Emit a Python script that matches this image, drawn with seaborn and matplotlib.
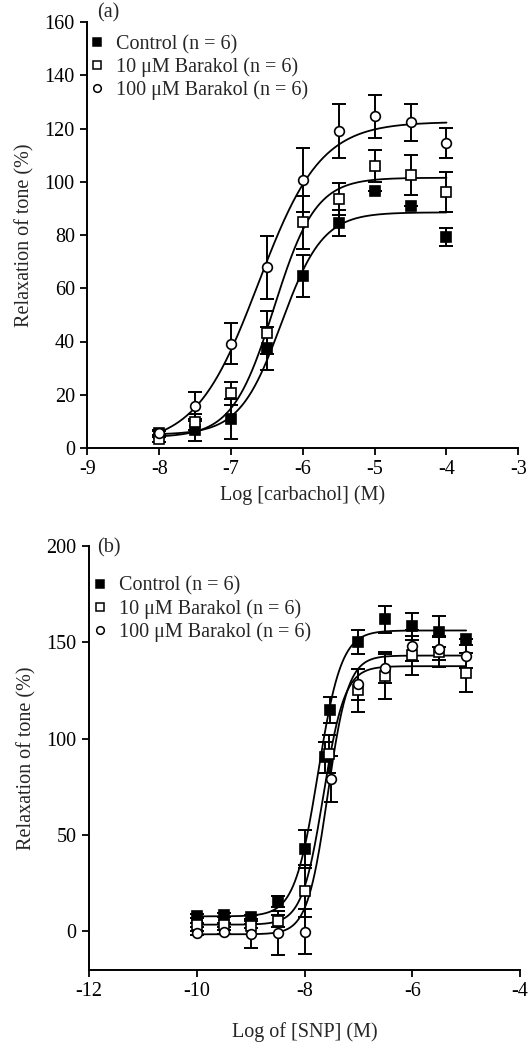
import numpy as np
import pandas as pd
import seaborn as sns
import matplotlib.pyplot as plt
from matplotlib.lines import Line2D

sns.set_style("ticks")
plt.rcParams['font.family'] = ['Liberation Serif', 'DejaVu Serif']
plt.rcParams['font.size'] = 14.5

# ---- panel (a): carbachol ----
x_a = [-8, -7.5, -7, -6.5, -6, -5.5, -5, -4.5, -4]
ctrl_a = [5.8, 6.8, 10.9, 37.4, 64.6, 84.5, 96.7, 90.8, 79.4]
ctrl_a_sem = [1.0, 4.0, 7.6, 8.0, 8.0, 5.0, 0.0, 0.0, 3.4]
b10_a = [3.3, 9.9, 20.6, 43.3, 84.8, 93.6, 105.9, 102.4, 96.3]
b10_a_sem = [1.0, 3.0, 4.3, 8.0, 10.0, 6.0, 6.0, 7.5, 7.5]
b100_a = [5.5, 15.6, 39.2, 67.8, 100.5, 119.1, 124.6, 122.3, 114.6]
b100_a_sem = [1.0, 5.6, 7.8, 12.0, 12.0, 10.0, 8.0, 7.0, 5.7]
# fitted curve parameters: bottom, top, logEC50, hill
fit_a_bottom = [5.0, 4.0, 1.0]
fit_a_top = [88.5, 101.5, 122.5]
fit_a_ec50 = [-6.3, -6.4, -6.62]
fit_a_hill = [1.5, 1.5, 1.0]

# ---- panel (b): SNP ----
x_b_ctrl = [-10, -9.5, -9, -8.5, -8, -7.62, -7.52, -7, -6.5, -6, -5.5, -5]
ctrl_b = [7.8, 8.5, 7.3, 15.6, 42.8, 90.3, 114.6, 150.0, 161.8, 158.2, 155.3, 151.8]
ctrl_b_sem = [1.0, 1.0, 1.0, 3.0, 10.0, 8.0, 6.7, 6.0, 7.0, 7.0, 8.0, 0.0]
x_b10 = [-10, -9.5, -9, -8.5, -8, -7.55, -7, -6.5, -6, -5.5, -5]
b10_b = [3.5, 3.4, 2.6, 5.5, 21.1, 92.0, 125.0, 132.2, 143.1, 145.0, 134.2]
b10_b_sem = [1.0, 1.0, 1.0, 3.0, 13.5, 10.0, 11.0, 11.5, 10.0, 8.0, 10.0]
x_b100 = [-10, -9.5, -9, -8.5, -8, -7.5, -7, -6.5, -6, -5.5, -5]
b100_b = [-1.0, -0.5, -1.4, -0.9, -0.2, 79.0, 128.1, 136.6, 148.0, 146.5, 142.6]
b100_b_sem = [1.0, 1.0, 7.0, 11.5, 11.7, 12.0, 8.0, 8.0, 8.0, 6.0, 6.0]
fit_b_bottom = [7.8, 3.5, -1.5]
fit_b_top = [156.0, 137.5, 143.0]
fit_b_ec50 = [-7.75, -7.65, -7.57]
fit_b_hill = [2.0, 2.2, 2.3]

labels = ['Control (n = 6)', '10 \u03bcM Barakol (n = 6)', '100 \u03bcM Barakol (n = 6)']
markers = ['s', 's', 'o']
faces = ['black', 'white', 'white']


def curves(x0, x1, bottom, top, ec50, hill):
    xx = np.linspace(x0, x1, 300)
    frames = []
    for i in range(3):
        yy = bottom[i] + (top[i] - bottom[i]) / (1 + 10 ** ((ec50[i] - xx) * hill[i]))
        frames.append(pd.DataFrame({'x': xx, 'y': yy, 'grp': labels[i]}))
    return pd.concat(frames)


def draw(ax, xs, ys, sems, fit_df):
    sns.lineplot(data=fit_df, x='x', y='y', hue='grp', palette=['black'] * 3,
                 estimator=None, legend=False, lw=1.3, ax=ax, zorder=2)
    for i in range(3):
        ax.errorbar(xs[i], ys[i], yerr=sems[i], fmt='none', ecolor='black',
                    elinewidth=1.4, capsize=5, capthick=1.4, zorder=3)
        ax.plot(xs[i], ys[i], ls='none', marker=markers[i], ms=7.5 if markers[i] == 's' else 7,
                mfc=faces[i], mec='black', mew=1.2, zorder=4)
    hs = [Line2D([], [], ls='none', marker=markers[i], ms=5.5, mfc=faces[i],
                 mec='black', mew=1.1) for i in range(3)]
    return hs


def style(ax):
    sns.despine(ax=ax)
    for s in ['left', 'bottom']:
        ax.spines[s].set_linewidth(1.4)
        ax.spines[s].set_color('black')
    ax.tick_params(direction='out', length=5, width=1.3, colors='black', labelsize=14.5, pad=4)
    ax.set_facecolor('white')


fig = plt.figure(figsize=(5.29, 10.43), dpi=100)
ax_a = fig.add_axes([87.3 / 529, 1 - 448 / 1043, 431 / 529, 426 / 1043])
ax_b = fig.add_axes([89 / 529, 1 - 970 / 1043, 431 / 529, 424.4 / 1043])

hs = draw(ax_a, [x_a, x_a, x_a], [ctrl_a, b10_a, b100_a], [ctrl_a_sem, b10_a_sem, b100_a_sem],
          curves(-8, -4, fit_a_bottom, fit_a_top, fit_a_ec50, fit_a_hill))
ax_a.set_xlim(-9, -3)
ax_a.set_ylim(0, 160)
ax_a.set_xticks(range(-9, -2))
ax_a.set_xticklabels([str(v) for v in range(-9, -2)])
ax_a.set_yticks(range(0, 161, 20))
ax_a.set_xlabel('Log [carbachol] (M)', fontsize=14.5, labelpad=4)
ax_a.set_ylabel('Relaxation of tone (%)', fontsize=14.5, labelpad=7)
style(ax_a)
ax_a.text(0.022, 1.021, '(a)', transform=ax_a.transAxes, fontsize=14.5, va='center', ha='left')
ax_a.legend(hs, labels, loc='upper left', bbox_to_anchor=(0.008, 0.97), frameon=False,
            fontsize=14.5, handlelength=0.6, handletextpad=0.65, labelspacing=0.17,
            borderaxespad=0, borderpad=0)

hs = draw(ax_b, [x_b_ctrl, x_b10, x_b100], [ctrl_b, b10_b, b100_b], [ctrl_b_sem, b10_b_sem, b100_b_sem],
          curves(-10, -5, fit_b_bottom, fit_b_top, fit_b_ec50, fit_b_hill))
ax_b.set_xlim(-12, -4)
ax_b.set_ylim(-20, 200)
ax_b.set_xticks(range(-12, -3, 2))
ax_b.set_xticklabels([str(v) for v in range(-12, -3, 2)])
ax_b.set_yticks(range(0, 201, 50))
ax_b.set_xlabel('Log of [SNP] (M)', fontsize=14.5, labelpad=15)
ax_b.set_ylabel('Relaxation of tone (%)', fontsize=14.5, labelpad=7)
style(ax_b)
ax_b.text(0.019, 0.994, '(b)', transform=ax_b.transAxes, fontsize=14.5, va='center', ha='left')
ax_b.legend(hs, labels, loc='upper left', bbox_to_anchor=(0.012, 0.927), frameon=False,
            fontsize=14.5, handlelength=0.6, handletextpad=0.65, labelspacing=0.17,
            borderaxespad=0, borderpad=0)

fig.savefig('out.png', dpi=100, facecolor='white')
